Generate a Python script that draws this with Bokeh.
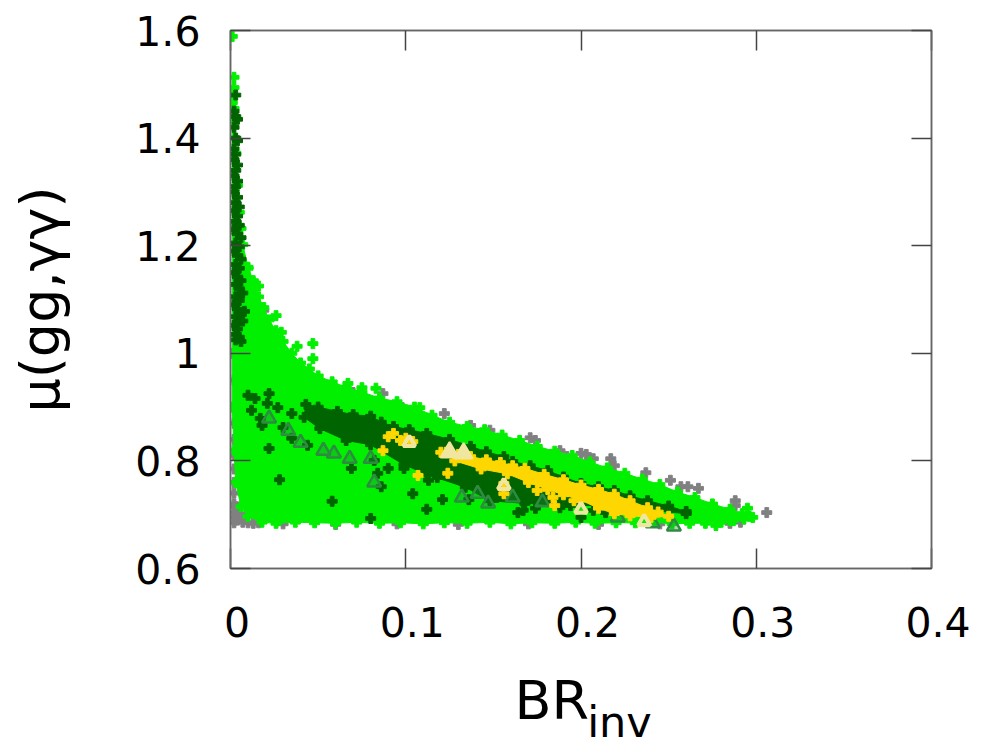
from bokeh.plotting import figure
from bokeh.models import Label, LinearAxis, FixedTicker
from bokeh.embed import file_html
from bokeh.resources import INLINE

x_ticks = [0, 0.1, 0.2, 0.3, 0.4]
x_tick_labels = ["0", "0.1", "0.2", "0.3", "0.4"]
y_ticks = [0.6, 0.8, 1.0, 1.2, 1.4, 1.6]
y_tick_labels = ["0.6", "0.8", "1", "1.2", "1.4", "1.6"]

# allowed region outline (bright green), read along its edge
green_x = [0.001, 0.001, 0.002, 0.003, 0.004, 0.005, 0.006, 0.007, 0.010, 0.013, 0.016, 0.019, 0.022, 0.026, 0.030,
           0.035, 0.040, 0.045, 0.050, 0.058, 0.066, 0.075, 0.085, 0.095, 0.105, 0.115, 0.125, 0.135, 0.145, 0.155,
           0.165, 0.175, 0.185, 0.195, 0.205, 0.215, 0.225, 0.235, 0.245, 0.255, 0.265, 0.275, 0.285, 0.292, 0.296,
           0.293, 0.287, 0.280, 0.271, 0.262, 0.252, 0.242, 0.231, 0.220, 0.208, 0.197, 0.185, 0.172, 0.160, 0.148,
           0.135, 0.122, 0.110, 0.097, 0.085, 0.072, 0.060, 0.048, 0.037, 0.026, 0.018, 0.010, 0.006, 0.003, 0.002]
green_y = [0.900, 1.480, 1.432, 1.372, 1.312, 1.262, 1.232, 1.202, 1.160, 1.135, 1.105, 1.085, 1.062, 1.042, 1.022,
           1.000, 0.982, 0.971, 0.958, 0.947, 0.937, 0.928, 0.917, 0.910, 0.900, 0.885, 0.872, 0.864, 0.858, 0.848,
           0.838, 0.827, 0.818, 0.810, 0.798, 0.787, 0.777, 0.766, 0.756, 0.742, 0.732, 0.720, 0.710, 0.702, 0.697,
           0.692, 0.689, 0.686, 0.684, 0.684, 0.683, 0.686, 0.685, 0.685, 0.684, 0.686, 0.684, 0.685, 0.683, 0.686,
           0.684, 0.685, 0.683, 0.685, 0.684, 0.686, 0.684, 0.685, 0.686, 0.684, 0.686, 0.697, 0.715, 0.760, 0.820]
green_extra_x = [0.001, 0.002, 0.002, 0.001, 0.002, 0.013, 0.010, 0.016, 0.026, 0.029, 0.038, 0.047, 0.047, 0.067,
                 0.075, 0.083, 0.108, 0.298, 0.295, 0.277, 0.285]
green_extra_y = [1.589, 1.513, 1.494, 1.466, 1.455, 1.132, 1.158, 1.125, 1.070, 1.039, 1.013, 1.018, 0.990, 0.944,
                 0.936, 0.935, 0.899, 0.695, 0.712, 0.680, 0.689]

gray_x = [0.148, 0.171, 0.174, 0.188, 0.192, 0.200, 0.203, 0.207, 0.217, 0.219, 0.237, 0.251, 0.257, 0.261, 0.267,
          0.288, 0.288, 0.285, 0.291, 0.306, 0.087, 0.098, 0.122, 0.137, 0.070, 0.019,
          0.002, 0.002, 0.002, 0.002, 0.002, 0.002, 0.002, 0.002, 0.002, 0.002, 0.002, 0.002, 0.001, 0.001, 0.001,
          0.004, 0.007, 0.010, 0.013, 0.016, 0.004, 0.008, 0.003,
          0.030, 0.060, 0.095, 0.130, 0.170, 0.210, 0.245]
gray_y = [0.857, 0.843, 0.838, 0.819, 0.808, 0.814, 0.812, 0.804, 0.804, 0.791, 0.778, 0.764, 0.752, 0.752, 0.749,
          0.726, 0.717, 0.684, 0.686, 0.704, 0.925, 0.899, 0.888, 0.866, 0.927, 1.080,
          0.685, 0.695, 0.705, 0.720, 0.740, 0.760, 0.785, 0.810, 0.840, 0.870, 0.900, 0.950, 1.000, 1.100, 1.230,
          0.690, 0.686, 0.685, 0.684, 0.685, 0.703, 0.696, 0.715,
          0.683, 0.682, 0.683, 0.682, 0.683, 0.682, 0.683]

# dense dark green band: outline, then scattered points and the narrow spike near zero
dark_x = [0.043, 0.050, 0.061, 0.070, 0.080, 0.086, 0.093, 0.102, 0.112, 0.125, 0.137, 0.146, 0.156, 0.161, 0.171, 0.181, 0.190,
          0.200, 0.210, 0.219, 0.228, 0.238, 0.250, 0.260,
          0.260, 0.240, 0.211, 0.194, 0.168, 0.148, 0.134, 0.112, 0.099, 0.080, 0.066, 0.051, 0.042]
dark_y = [0.905, 0.900, 0.892, 0.886, 0.883, 0.872, 0.864, 0.858, 0.851, 0.840, 0.827, 0.817, 0.808, 0.799, 0.791, 0.782, 0.770,
          0.758, 0.752, 0.745, 0.735, 0.726, 0.716, 0.706,
          0.702, 0.708, 0.717, 0.717, 0.721, 0.726, 0.751, 0.775, 0.793, 0.830, 0.838, 0.860, 0.881]
dark_extra_x = [0.010, 0.014, 0.022, 0.021, 0.012, 0.017, 0.018, 0.027, 0.035, 0.030, 0.035, 0.044, 0.022, 0.028,
                0.058, 0.080, 0.069, 0.082, 0.084, 0.086, 0.090, 0.099, 0.104, 0.112, 0.121, 0.113, 0.118, 0.136,
                0.164, 0.141, 0.147, 0.152, 0.158, 0.164, 0.169, 0.167, 0.174, 0.188, 0.200, 0.207, 0.214, 0.148,
                0.179, 0.186]
dark_extra_y = [0.922, 0.916, 0.925, 0.907, 0.894, 0.879, 0.866, 0.899, 0.888, 0.862, 0.842, 0.829, 0.823, 0.765,
                0.725, 0.693, 0.786, 0.801, 0.777, 0.752, 0.786, 0.786, 0.739, 0.710, 0.728, 0.764, 0.769, 0.728,
                0.704, 0.758, 0.745, 0.732, 0.751, 0.736, 0.745, 0.708, 0.712, 0.713, 0.695, 0.708, 0.704, 0.730,
                0.732, 0.745]
spike_x = [0.003, 0.002, 0.003, 0.004, 0.002, 0.003, 0.004, 0.002, 0.003, 0.002, 0.004, 0.003, 0.002, 0.004, 0.003,
           0.002, 0.004, 0.003, 0.005, 0.002, 0.004, 0.003, 0.005, 0.002, 0.004, 0.006, 0.003, 0.005, 0.002, 0.004,
           0.006, 0.003, 0.005, 0.002, 0.004, 0.006, 0.003, 0.005, 0.007, 0.003, 0.005, 0.002, 0.004, 0.006, 0.008,
           0.003, 0.005, 0.002, 0.004, 0.007, 0.003, 0.005, 0.003, 0.006]
spike_y = [1.480, 1.450, 1.440, 1.435, 1.420, 1.400, 1.395, 1.380, 1.370, 1.360, 1.350, 1.340, 1.330, 1.320, 1.310,
           1.300, 1.290, 1.280, 1.272, 1.265, 1.255, 1.245, 1.238, 1.230, 1.222, 1.215, 1.205, 1.198, 1.190, 1.182,
           1.175, 1.165, 1.158, 1.150, 1.142, 1.135, 1.128, 1.120, 1.112, 1.105, 1.098, 1.090, 1.082, 1.075, 1.078,
           1.068, 1.060, 1.052, 1.045, 1.060, 1.035, 1.030, 1.025, 1.022]

# gold band outline and separate gold points
gold_x = [0.123, 0.130, 0.137, 0.146, 0.154, 0.161, 0.168, 0.179, 0.190, 0.200, 0.210, 0.219, 0.228, 0.238, 0.244, 0.250,
          0.240, 0.228, 0.219, 0.210, 0.200, 0.190, 0.181, 0.170, 0.158, 0.143, 0.128]
gold_y = [0.816, 0.812, 0.808, 0.802, 0.797, 0.791, 0.786, 0.775, 0.765, 0.755, 0.747, 0.738, 0.726, 0.713, 0.705, 0.697,
          0.695, 0.698, 0.702, 0.712, 0.727, 0.737, 0.747, 0.760, 0.776, 0.785, 0.800]
gold_extra_x = [0.093, 0.090, 0.100, 0.097, 0.104, 0.087, 0.107, 0.124, 0.156, 0.156, 0.120, 0.185, 0.184, 0.196, 0.175]
gold_extra_y = [0.851, 0.845, 0.842, 0.838, 0.836, 0.819, 0.773, 0.777, 0.739, 0.758, 0.816, 0.717, 0.732, 0.726, 0.745]

# triangles
dark_tri_x = [0.022, 0.033, 0.040, 0.053, 0.059, 0.068, 0.080, 0.082, 0.132, 0.141, 0.147, 0.161, 0.178, 0.241, 0.253, 0.221]
dark_tri_y = [0.879, 0.856, 0.834, 0.819, 0.814, 0.804, 0.804, 0.760, 0.732, 0.739, 0.721, 0.732, 0.723, 0.684, 0.678, 0.695]
pale_tri_x = [0.102, 0.156, 0.200, 0.236]
pale_tri_y = [0.834, 0.754, 0.710, 0.687]
pale_big_x = [0.125, 0.133]
pale_big_y = [0.816, 0.814]

FONT = "DejaVu Sans"
GREEN, DARK, GOLD, GRAY = "#00f000", "#006400", "#ffd700", "#808080"
PLUS = 10

p = figure(frame_width=701, frame_height=538, x_range=(0, 0.4), y_range=(0.6, 1.6), output_backend="svg",
           toolbar_location=None, min_border_left=230, min_border_right=50, min_border_top=30, min_border_bottom=0,
           x_axis_location=None, y_axis_location=None, background_fill_color="white", border_fill_color="white")
p.grid.visible = False
p.outline_line_color = "#666666"
p.outline_line_width = 1.5


def make_axis(ticks, labels=None, standoff=30):
    a = LinearAxis(ticker=FixedTicker(ticks=ticks))
    a.major_tick_in = 20
    a.major_tick_out = 0
    a.minor_tick_line_color = None
    a.major_tick_line_color = "#444444"
    a.major_tick_line_width = 1.5
    a.axis_line_color = "#666666"
    a.axis_line_width = 1.5
    if labels:
        a.major_label_text_font = FONT
        a.major_label_text_font_size = "41px"
        a.major_label_text_color = "black"
        a.major_label_standoff = standoff
        a.major_label_overrides = dict(zip(ticks, labels))
    else:
        a.major_label_text_font_size = "0px"
        a.major_label_text_color = None
    return a


left_axis = make_axis(y_ticks, y_tick_labels)
left_axis.axis_label = "μ(gg,γγ)"
left_axis.axis_label_text_font = FONT
left_axis.axis_label_text_font_style = "normal"
left_axis.axis_label_text_font_size = "54px"
left_axis.axis_label_text_color = "black"
left_axis.axis_label_standoff = 60
p.add_layout(left_axis, "left")
p.add_layout(make_axis(y_ticks), "right")
# a leading no-break space moves the centred labels to the right of their ticks, as in the reference
p.add_layout(make_axis(x_ticks, ["\u00a0" + t for t in x_tick_labels]), "below")
p.add_layout(make_axis(x_ticks), "above")

p.scatter(gray_x, gray_y, marker="plus", size=PLUS, color=GRAY)

p.patch(green_x, green_y, color=GREEN)
p.scatter(green_x, green_y, marker="plus", size=PLUS, color=GREEN)
p.scatter(green_extra_x, green_extra_y, marker="plus", size=PLUS, color=GREEN)

p.patch(dark_x, dark_y, color=DARK)
p.scatter(dark_x, dark_y, marker="plus", size=PLUS, color=DARK)
p.scatter(dark_extra_x, dark_extra_y, marker="plus", size=PLUS, color=DARK)
p.scatter(spike_x, spike_y, marker="plus", size=PLUS, color=DARK)

p.scatter(dark_tri_x, dark_tri_y, marker="triangle", size=14, fill_color="#1f8a3a", fill_alpha=0.35,
          line_color="#2e8b40", line_width=2.5)

p.patch(gold_x, gold_y, color=GOLD)
p.scatter(gold_x, gold_y, marker="plus", size=PLUS, color=GOLD)
p.scatter(gold_extra_x, gold_extra_y, marker="plus", size=PLUS, color=GOLD)

p.scatter(pale_tri_x, pale_tri_y, marker="triangle", size=12, fill_color=None, line_color="#f0e6a0", line_width=4)
p.scatter(pale_big_x, pale_big_y, marker="triangle", size=18, fill_color="#f0e6a0", line_color="#f0e6a0", line_width=2)

p.add_layout(Label(x=0.162, y=12, x_units="data", y_units="screen", text="BR", text_font=FONT,
                   text_font_size="54px", text_color="black", text_baseline="alphabetic", text_align="left"), "below")
p.add_layout(Label(x=0.2035, y=41, x_units="data", y_units="screen", text="inv", text_font=FONT,
                   text_font_size="43px", text_color="black", text_baseline="alphabetic", text_align="left"), "below")

open("out.html", "w").write(file_html(p, INLINE))
